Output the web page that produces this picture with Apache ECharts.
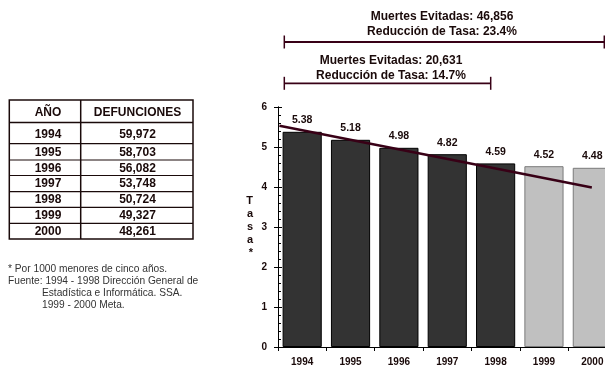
<!DOCTYPE html>
<html>
<head>
<meta charset="utf-8">
<script src="https://cdn.jsdelivr.net/npm/echarts@6/dist/echarts.min.js"></script>
<style>html,body{margin:0;padding:0;background:#fff;overflow:hidden}#c{width:605px;height:366px}</style>
</head>
<body>
<div id="c"></div>
<script>
var years = ['1994','1995','1996','1997','1998','1999','2000'];
var rates = [5.38, 5.18, 4.98, 4.82, 4.59, 4.52, 4.48];
var defunciones = [59972, 58703, 56082, 53748, 50724, 49327, 48261];
var firstGoalIndex = 5; // 1999-2000 are "Meta"
var trendX = [-0.47, 5.99];
var trendY = [5.53, 3.99];
var bracketTexts = [
  ['Muertes Evitadas: 46,856', 'Reducción de Tasa: 23.4%'],
  ['Muertes Evitadas: 20,631', 'Reducción de Tasa: 14.7%']
];
var footnotes = [
  '* Por 1000 menores de cinco años.',
  'Fuente: 1994 - 1998 Dirección General de',
  '            Estadística e Informática. SSA.',
  '            1999 - 2000 Meta.'
];

var FONT = 'Liberation Sans, Arial, sans-serif';
var INK = '#1a0a0a';
var MAROON = '#380016';

var chart = echarts.init(document.getElementById('c'), null, {renderer: 'canvas'});

function txt(x, y, s, size, weight, align, color) {
  return {type: 'text', x: x, y: y, z: 10,
    style: {text: s, fontSize: size, fontWeight: weight, fontFamily: FONT,
      fill: color || INK, align: align || 'center', verticalAlign: 'middle'}};
}

// ---- table graphics ----
var tL = 9.3, tR = 193, tMid = 80.7, tTop = 100, tHead = 122.5;
var rowBottoms = [143.7, 160, 175.5, 191.7, 207.3, 223.3, 239];
var g = [];
g.push({type: 'rect', shape: {x: tL, y: tTop, width: tR - tL, height: rowBottoms[6] - tTop},
  style: {fill: 'none', stroke: INK, lineWidth: 1.5}});
g.push({type: 'line', shape: {x1: tMid, y1: tTop, x2: tMid, y2: rowBottoms[6]}, style: {stroke: INK, lineWidth: 1.5}});
g.push({type: 'line', shape: {x1: tL, y1: tHead, x2: tR, y2: tHead}, style: {stroke: INK, lineWidth: 1.5}});
for (var i = 0; i < rowBottoms.length - 1; i++) {
  g.push({type: 'line', shape: {x1: tL, y1: rowBottoms[i], x2: tR, y2: rowBottoms[i]}, style: {stroke: INK, lineWidth: 1.2}});
}
var c1 = 48, c2 = 137.5;
g.push(txt(c1, (tTop + tHead) / 2 + 1, 'AÑO', 12, 'bold'));
g.push(txt(c2, (tTop + tHead) / 2 + 1, 'DEFUNCIONES', 12, 'bold'));
for (var i = 0; i < years.length; i++) {
  var rowTop = i === 0 ? tHead : rowBottoms[i - 1];
  var cy = i === 0 ? (rowTop + rowBottoms[i]) / 2 + 2 : (rowTop + rowBottoms[i]) / 2 + 0.5;
  g.push(txt(c1, cy, years[i], 12, 'bold'));
  g.push(txt(c2, cy, defunciones[i].toLocaleString('en-US'), 12, 'bold'));
}
// footnotes
for (var i = 0; i < footnotes.length; i++) {
  g.push(txt(8, 269 + i * 12, footnotes[i], 10.2, 'normal', 'left', '#333'));
}
// brackets
function bracket(x1, x2, y, h) {
  g.push({type: 'line', shape: {x1: x1, y1: y, x2: x2, y2: y}, style: {stroke: MAROON, lineWidth: 1.8}});
  g.push({type: 'line', shape: {x1: x1, y1: y - h, x2: x1, y2: y + h}, style: {stroke: MAROON, lineWidth: 1.5}});
  g.push({type: 'line', shape: {x1: x2, y1: y - h, x2: x2, y2: y + h}, style: {stroke: MAROON, lineWidth: 1.5}});
}
bracket(284.3, 604.3, 42, 6.5);
bracket(284.3, 490.7, 83.3, 6.5);
g.push(txt(442, 17, bracketTexts[0][0], 12, 'bold'));
g.push(txt(442, 32, bracketTexts[0][1], 12, 'bold'));
g.push(txt(391, 61, bracketTexts[1][0], 12, 'bold'));
g.push(txt(391, 75.5, bracketTexts[1][1], 12, 'bold'));

var barData = rates.map(function (v, i) {
  var goal = i >= firstGoalIndex;
  return {
    value: v,
    itemStyle: goal ? {color: '#c0c0c0', borderColor: '#7a7a7a', borderWidth: 1}
                    : {color: '#333333', borderColor: '#000', borderWidth: 1}
  };
});

var option = {
  animation: false,
  backgroundColor: '#fff',
  textStyle: {fontFamily: FONT},
  grid: [{left: 278, right: -11.5, top: 107, bottom: 19, containLabel: false, outerBoundsMode: 'none'}],
  xAxis: [
    {type: 'category', data: years, gridIndex: 0, position: 'bottom',
      axisLine: {onZero: false, lineStyle: {color: '#000', width: 1}},
      axisTick: {show: true, length: 4, lineStyle: {color: '#000'}},
      axisLabel: {color: INK, fontWeight: 'bold', fontSize: 10, margin: 10, fontFamily: FONT}},
    {type: 'value', gridIndex: 0, min: -0.5, max: 6.5, show: false, position: 'bottom',
      axisLine: {show: false, onZero: false}, axisTick: {show: false}, axisLabel: {show: false}, splitLine: {show: false}}
  ],
  yAxis: [
    {type: 'value', min: 0, max: 6, interval: 1, position: 'left',
      name: 'T\na\ns\na\n*', nameLocation: 'middle', nameRotate: 0, nameGap: 25,
      nameTextStyle: {fontWeight: 'bold', fontSize: 11, color: INK, lineHeight: 13, fontFamily: FONT, padding: [0, 0, 8, 0]},
      axisLine: {show: true, onZero: false, lineStyle: {color: '#000', width: 1}},
      axisTick: {show: true, inside: true, length: 4, lineStyle: {color: '#000'}},
      minorTick: {show: true, splitNumber: 5, length: 3, lineStyle: {color: '#000'}},
      axisLabel: {color: INK, fontWeight: 'bold', fontSize: 10, margin: 11, fontFamily: FONT},
      splitLine: {show: false}},
    {type: 'value', min: 0, max: 6, interval: 1, position: 'left', offset: 0,
      axisLine: {show: true, onZero: false, lineStyle: {color: '#000', width: 1}},
      axisTick: {show: true, inside: false, length: 4, lineStyle: {color: '#000'}},
      axisLabel: {show: false}, splitLine: {show: false}}
  ],
  series: [
    {type: 'bar', xAxisIndex: 0, yAxisIndex: 0, data: barData, barCategoryGap: '19%',
      label: {show: true, position: 'top', distance: 6, color: INK, fontWeight: 'bold', fontSize: 10.5, fontFamily: FONT,
        formatter: function (p) { return p.value.toFixed(2); }}},
    {type: 'line', xAxisIndex: 1, yAxisIndex: 0, data: trendX.map(function (x, i) { return [x, trendY[i]]; }),
      symbol: 'none', lineStyle: {color: MAROON, width: 2.5}, z: 5}
  ],
  graphic: g
};
chart.setOption(option);
</script>
</body>
</html>
